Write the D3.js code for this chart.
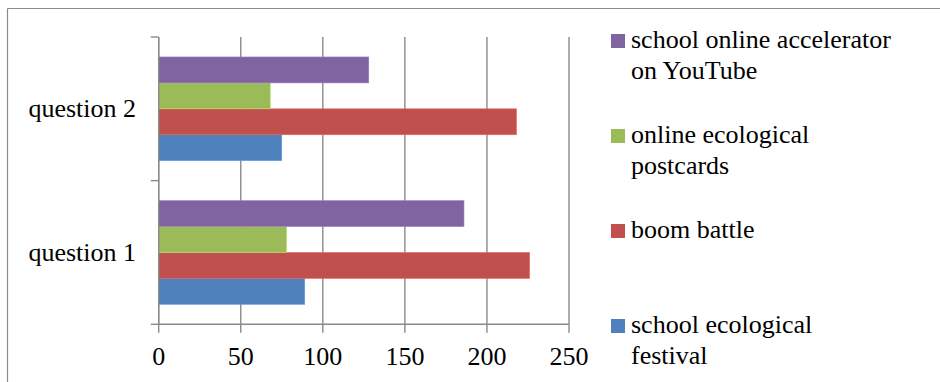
<!DOCTYPE html>
<html>
<head>
<meta charset="utf-8">
<script src="https://cdn.jsdelivr.net/npm/d3@7/dist/d3.min.js"></script>
<style>
  html, body { margin: 0; padding: 0; background: #fff; }
  svg { display: block; }
</style>
</head>
<body>
<svg id="chart" width="940" height="382"></svg>
<script>
// Categories, top to bottom as drawn on the vertical axis
const categories = ["question 2", "question 1"];

// Series names (in series order; bars stack from bottom to top within a group)
const seriesNames = [
  "school ecological festival",
  "boom battle",
  "online ecological postcards",
  "school online accelerator on YouTube"
];

// Values per series, indexed as [question 2, question 1]
const festivalValues    = [75, 89];
const boomBattleValues  = [218, 226];
const postcardValues    = [68, 78];
const acceleratorValues = [128, 186];

// Axis tick labels
const xTicks = [0, 50, 100, 150, 200, 250];

// Legend text, wrapped in two lines where needed
const legendLines = [
  ["school online accelerator", "on YouTube"],
  ["online ecological", "postcards"],
  ["boom battle"],
  ["school ecological", "festival"]
];

const seriesValues = [festivalValues, boomBattleValues, postcardValues, acceleratorValues];
const seriesColors = ["#4F81BD", "#C0504D", "#9BBB59", "#8064A2"];

const FONT = "'Liberation Serif', 'Times New Roman', Tinos, 'DejaVu Serif', serif";

const svg = d3.select("#chart")
  .attr("font-family", FONT)
  .style("font-family", FONT);

// outer frame (only top and left edges fall inside the view)
svg.append("line").attr("x1", 7.5).attr("y1", 8.5).attr("x2", 940).attr("y2", 8.5)
  .attr("stroke", "#8c8c8c").attr("stroke-width", 1.2);
svg.append("line").attr("x1", 7.5).attr("y1", 8.5).attr("x2", 7.5).attr("y2", 382)
  .attr("stroke", "#8c8c8c").attr("stroke-width", 1.2);

const plotLeft = 158.7, plotRight = 569, plotTop = 37, plotBottom = 324.3;

const x = d3.scaleLinear().domain([0, 250]).range([plotLeft, plotRight]);
const y = d3.scaleBand().domain(categories).range([plotTop, plotBottom]);

// series order top-to-bottom inside a group is the reverse of series order
const inner = d3.scaleBand()
  .domain(seriesNames.slice().reverse())
  .range([0, y.bandwidth()])
  .paddingInner(0)
  .paddingOuter(0.77);

const gridColor = "#8a8a8a";

// vertical gridlines, extended below the axis as tick marks
svg.append("g").selectAll("line").data(xTicks).join("line")
  .attr("x1", d => x(d)).attr("x2", d => x(d))
  .attr("y1", plotTop).attr("y2", plotBottom + 8.5)
  .attr("stroke", gridColor).attr("stroke-width", 1.4);

// bars
seriesNames.forEach((name, si) => {
  svg.append("g").selectAll("rect").data(categories).join("rect")
    .attr("x", x(0))
    .attr("y", c => y(c) + inner(name))
    .attr("width", (c, ci) => x(seriesValues[si][ci]) - x(0))
    .attr("height", inner.bandwidth())
    .attr("fill", seriesColors[si])
    .attr("stroke", d3.color(seriesColors[si]).brighter(0.6))
    .attr("stroke-width", 0.6);
});

// horizontal axis line
svg.append("line").attr("x1", x(0)).attr("x2", x(250))
  .attr("y1", plotBottom).attr("y2", plotBottom)
  .attr("stroke", gridColor).attr("stroke-width", 1.4);

// vertical axis with tick marks at group boundaries
svg.append("line").attr("x1", x(0)).attr("x2", x(0))
  .attr("y1", plotTop).attr("y2", plotBottom)
  .attr("stroke", gridColor).attr("stroke-width", 1.4);
const yBounds = [plotTop, ...categories.map(c => y(c) + y.bandwidth())];
svg.append("g").selectAll("line").data(yBounds).join("line")
  .attr("x1", x(0) - 8).attr("x2", x(0))
  .attr("y1", d => d).attr("y2", d => d)
  .attr("stroke", gridColor).attr("stroke-width", 1.4);

// x tick labels
svg.append("g").selectAll("text").data(xTicks).join("text")
  .attr("x", d => x(d)).attr("y", 365)
  .attr("text-anchor", "middle")
  .attr("font-size", 26)
  .attr("fill", "#000")
  .text(d => d);

// category labels
svg.append("g").selectAll("text").data(categories).join("text")
  .attr("x", 136).attr("y", c => y(c) + y.bandwidth() / 2 + 8.5)
  .attr("text-anchor", "end")
  .attr("font-size", 26)
  .attr("fill", "#000")
  .text(c => c);

// legend, listed top-to-bottom in reverse series order
const legendColors = seriesColors.slice().reverse();
const legend = svg.append("g");
legendLines.forEach((lines, i) => {
  const top = 34 + i * 95;
  legend.append("rect")
    .attr("x", 611).attr("y", top).attr("width", 14).attr("height", 14)
    .attr("fill", legendColors[i]);
  lines.forEach((t, li) => {
    legend.append("text")
      .attr("x", 631).attr("y", top + 14 + li * 31)
      .attr("font-size", 26)
      .attr("fill", "#000")
      .text(t);
  });
});
</script>
</body>
</html>
